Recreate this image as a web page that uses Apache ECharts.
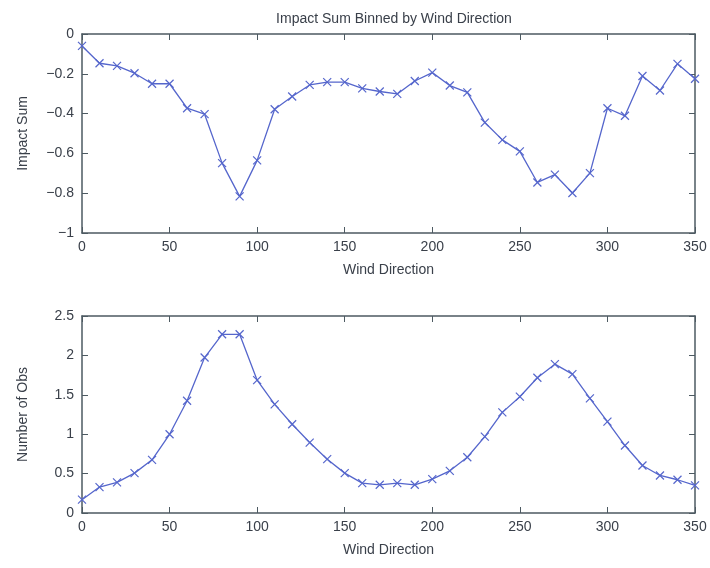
<!DOCTYPE html>
<html><head><meta charset="utf-8">
<script src="https://cdn.jsdelivr.net/npm/echarts@6/dist/echarts.min.js"></script>
<style>html,body{margin:0;padding:0;background:#fff}#c{width:710px;height:568px}</style>
</head><body><div id="c"></div>
<script>
const directions = [0,10,20,30,40,50,60,70,80,90,100,110,120,130,140,150,160,170,180,190,200,210,220,230,240,250,260,270,280,290,300,310,320,330,340,350];
const impactSum = [-0.06,-0.147,-0.16,-0.197,-0.25,-0.25,-0.373,-0.403,-0.649,-0.816,-0.635,-0.378,-0.314,-0.256,-0.242,-0.242,-0.273,-0.289,-0.301,-0.236,-0.194,-0.259,-0.293,-0.445,-0.532,-0.59,-0.746,-0.707,-0.799,-0.699,-0.373,-0.411,-0.211,-0.284,-0.15,-0.225];
const numObs = [0.169,0.329,0.388,0.506,0.675,0.999,1.425,1.973,2.268,2.268,1.686,1.379,1.126,0.894,0.683,0.506,0.379,0.358,0.379,0.358,0.43,0.535,0.708,0.97,1.277,1.476,1.716,1.889,1.762,1.454,1.159,0.856,0.603,0.476,0.422,0.35];
const titleText = 'Impact Sum Binned by Wind Direction';
const xName = 'Wind Direction';
const yName1 = 'Impact Sum';
const yName2 = 'Number of Obs';

const txt = '#3a404a', axc = '#4d5a62', lineC = '#5566cc';
const font = 'Liberation Sans';
const xSym = 'path://M0,0L10,10M10,0L0,10';
function pts(vals){ return directions.map((d,i)=>[d, vals[i]]); }
const lineSt = {show:true, onZero:false, lineStyle:{color:axc, width:1.5}};
const tickSt = {inside:true, length:6, lineStyle:{color:axc}};
function xAxes(gi){
  return [{
    gridIndex: gi, type:'value', min:0, max:350, interval:50, position:'bottom',
    name: xName, nameLocation:'middle', nameGap: 30,
    nameTextStyle:{color:txt, fontSize:14, fontFamily:font},
    axisLine:lineSt, axisTick:tickSt,
    axisLabel:{color:txt, fontSize:14, fontFamily:font, margin:7},
    splitLine:{show:false}
  },{
    gridIndex: gi, type:'value', min:0, max:350, interval:50, position:'top',
    axisLine:lineSt, axisTick:tickSt,
    axisLabel:{show:false}, splitLine:{show:false}
  }];
}
function yAxes(gi, min, max, interval, name, fmt){
  return [{
    gridIndex: gi, type:'value', min:min, max:max, interval:interval, position:'left',
    name: name, nameLocation:'middle', nameGap: 52, nameRotate: 90,
    nameTextStyle:{color:txt, fontSize:14, fontFamily:font},
    axisLine:lineSt, axisTick:tickSt,
    axisLabel:{color:txt, fontSize:14, fontFamily:font, margin:8, formatter: fmt},
    splitLine:{show:false}
  },{
    gridIndex: gi, type:'value', min:min, max:max, interval:interval, position:'right',
    axisLine:lineSt, axisTick:tickSt,
    axisLabel:{show:false}, splitLine:{show:false}
  }];
}
const fmt = v => { const s = String(Math.round(v*10)/10); return s.replace('-', '\u2212'); };
const chart = echarts.init(document.getElementById('c'), null, {renderer:'canvas'});
chart.setOption({
  animation:false,
  backgroundColor:'#fff',
  title:{text:titleText, left:389, top:7, textAlign:'center',
    textStyle:{color:txt, fontSize:14, fontWeight:'normal', fontFamily:font}},
  grid:[
    {left:82, top:34, width:613, height:199},
    {left:82, top:316, width:613, height:197}
  ],
  xAxis:[...xAxes(0), ...xAxes(1)],
  yAxis:[...yAxes(0,-1,0,0.2,yName1,fmt), ...yAxes(1,0,2.5,0.5,yName2,fmt)],
  series:[
    {type:'line', xAxisIndex:0, yAxisIndex:0, data:pts(impactSum),
     symbol:xSym, symbolSize:8, showAllSymbol:true,
     lineStyle:{color:lineC, width:1.3},
     itemStyle:{color:lineC, borderColor:lineC, borderWidth:1.2}},
    {type:'line', xAxisIndex:2, yAxisIndex:2, data:pts(numObs),
     symbol:xSym, symbolSize:8, showAllSymbol:true,
     lineStyle:{color:lineC, width:1.3},
     itemStyle:{color:lineC, borderColor:lineC, borderWidth:1.2}}
  ]
});
</script></body></html>
